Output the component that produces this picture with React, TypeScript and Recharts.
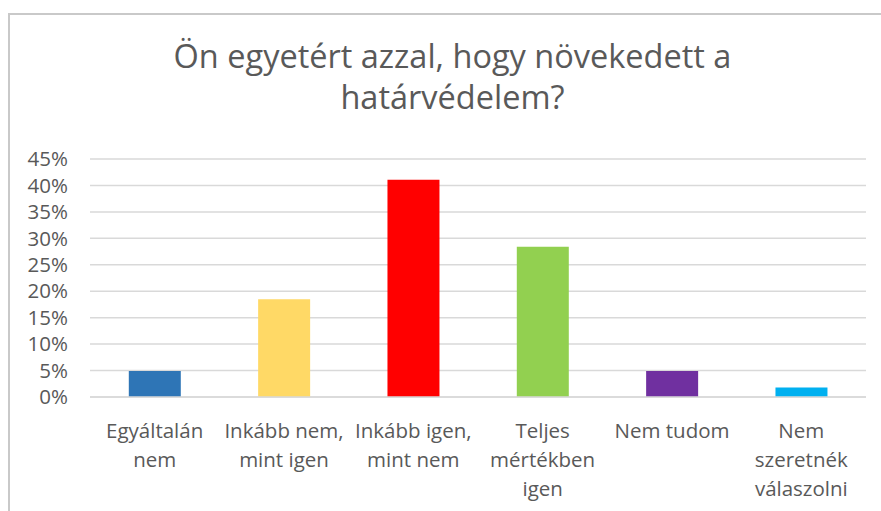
import { Bar, BarChart, CartesianGrid, Cell, XAxis, YAxis } from "recharts";

const categories = [
  "Egyáltalán nem",
  "Inkább nem, mint igen",
  "Inkább igen, mint nem",
  "Teljes mértékben igen",
  "Nem tudom",
  "Nem szeretnék válaszolni",
];

// how each category label wraps under the axis
const tickLines: string[][] = [
  ["Egyáltalán", "nem"],
  ["Inkább nem,", "mint igen"],
  ["Inkább igen,", "mint nem"],
  ["Teljes", "mértékben", "igen"],
  ["Nem tudom"],
  ["Nem", "szeretnék", "válaszolni"],
];

const shares = [0.049, 0.185, 0.411, 0.284, 0.049, 0.018];

const barColors = ["#2E75B6", "#FFD966", "#FF0000", "#92D050", "#7030A0", "#00B0F0"];

const yTicks = [0, 0.05, 0.1, 0.15, 0.2, 0.25, 0.3, 0.35, 0.4, 0.45];

const titleLines = ["Ön egyetért azzal, hogy növekedett a", "határvédelem?"];

const FONT = "'Open Sans', sans-serif";
const TEXT_COLOR = "#595959";

const data = categories.map((name, i) => ({ name, share: shares[i] }));

function CategoryTick(props: any) {
  const { x, y, payload } = props;
  const lines = tickLines[payload.index] ?? [payload.value];
  return (
    <text
      x={x}
      y={y}
      textAnchor="middle"
      fontFamily={FONT}
      fontSize={20.5}
      fill={TEXT_COLOR}
    >
      {lines.map((line, i) => (
        <tspan key={i} x={x} dy={i === 0 ? 33 : 29}>
          {line}
        </tspan>
      ))}
    </text>
  );
}

export default function App() {
  return (
    <div
      style={{
        position: "fixed",
        left: 0,
        top: 0,
        width: 881,
        height: 511,
        overflow: "hidden",
        background: "#fff",
      }}
    >
      <div
        style={{
          position: "absolute",
          left: 8,
          top: 13,
          width: 900,
          height: 520,
          borderTop: "2px solid #c9c9c9",
          borderLeft: "2px solid #c9c9c9",
        }}
      />
      <div
        style={{
          position: "absolute",
          left: 0,
          top: 35,
          width: 905,
          textAlign: "center",
          fontFamily: FONT,
          fontSize: 32.5,
          lineHeight: "41px",
          color: TEXT_COLOR,
        }}
      >
        {titleLines.map((line) => (
          <div key={line}>{line}</div>
        ))}
      </div>
      <BarChart
        width={881}
        height={511}
        data={data}
        margin={{ top: 159, right: 15, bottom: 0, left: 0 }}
        barCategoryGap="30%"
        style={{ position: "absolute", left: 0, top: 0 }}
      >
        <CartesianGrid vertical={false} stroke="#d9d9d9" strokeWidth={1.5} />
        <XAxis
          dataKey="name"
          height={114}
          axisLine={{ stroke: "#d9d9d9", strokeWidth: 1.5 }}
          tickLine={false}
          tick={<CategoryTick />}
          interval={0}
        />
        <YAxis
          width={90}
          domain={[0, 0.45]}
          ticks={yTicks}
          interval={0}
          axisLine={false}
          tickLine={false}
          tickSize={0}
          tickMargin={22}
          tickFormatter={(v: number) => `${Math.round(v * 100)}%`}
          tick={{ fontFamily: FONT, fontSize: 20.5, fill: TEXT_COLOR }}
        />
        <Bar dataKey="share" isAnimationActive={false}>
          {data.map((d, i) => (
            <Cell key={d.name} fill={barColors[i]} />
          ))}
        </Bar>
      </BarChart>
    </div>
  );
}
